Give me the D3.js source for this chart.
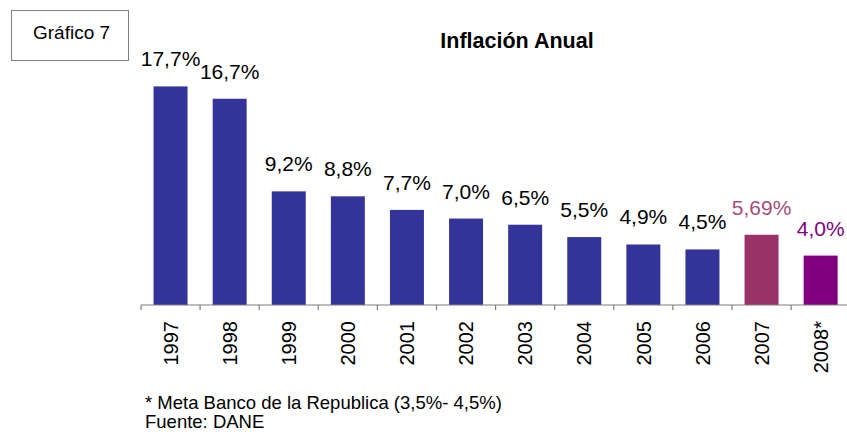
<!DOCTYPE html>
<html>
<head>
<meta charset="utf-8">
<script src="https://cdn.jsdelivr.net/npm/d3@7"></script>
<style>
  html, body { margin: 0; padding: 0; background: #ffffff; }
  svg { display: block; font-family: "Liberation Sans", Arial, sans-serif; }
</style>
</head>
<body>
<svg id="chart" width="847" height="432"></svg>
<script>
// Annual inflation, Colombia
const years  = ["1997", "1998", "1999", "2000", "2001", "2002", "2003", "2004", "2005", "2006", "2007", "2008*"];
const values = [17.7, 16.7, 9.2, 8.8, 7.7, 7.0, 6.5, 5.5, 4.9, 4.5, 5.69, 4.0];
const labels = ["17,7%", "16,7%", "9,2%", "8,8%", "7,7%", "7,0%", "6,5%", "5,5%", "4,9%", "4,5%", "5,69%", "4,0%"];
const barColors   = ["#333399", "#333399", "#333399", "#333399", "#333399", "#333399", "#333399", "#333399", "#333399", "#333399", "#993366", "#800080"];
const labelColors = ["#000000", "#000000", "#000000", "#000000", "#000000", "#000000", "#000000", "#000000", "#000000", "#000000", "#a64d79", "#800080"];

const svg = d3.select("#chart");

const x = d3.scaleBand()
  .domain(years)
  .range([141, 850.2])
  .paddingInner(0.425)
  .paddingOuter(0.2125);

const y = d3.scaleLinear()
  .domain([0, 20])
  .range([305, 58]);

// bars
svg.append("g")
  .selectAll("rect")
  .data(years)
  .join("rect")
  .attr("x", d => x(d))
  .attr("width", x.bandwidth())
  .attr("y", (d, i) => y(values[i]))
  .attr("height", (d, i) => y(0) - y(values[i]))
  .attr("fill", (d, i) => barColors[i]);

// value labels
svg.append("g")
  .selectAll("text")
  .data(years)
  .join("text")
  .attr("x", d => x(d) + x.bandwidth() / 2)
  .attr("y", (d, i) => y(values[i]) - 20)
  .attr("text-anchor", "middle")
  .attr("font-size", 21)
  .attr("fill", (d, i) => labelColors[i])
  .text((d, i) => labels[i]);

// category axis: baseline with ticks on band boundaries
const [r0, r1] = x.range();
const axis = svg.append("g").attr("stroke", "#7f7f7f").attr("stroke-width", 1.2);
axis.append("line")
  .attr("x1", r0).attr("x2", r1)
  .attr("y1", y(0)).attr("y2", y(0));
const step = x.step();
axis.selectAll("line.tick")
  .data(years)
  .join("line")
  .attr("class", "tick")
  .attr("x1", d => x(d) - x.paddingOuter() * step)
  .attr("x2", d => x(d) - x.paddingOuter() * step)
  .attr("y1", y(0)).attr("y2", y(0) + 5);

// year labels, rotated
svg.append("g")
  .selectAll("text")
  .data(years)
  .join("text")
  .attr("transform", d => `translate(${x(d) + x.bandwidth() / 2},${y(0) + 16}) rotate(-90)`)
  .attr("text-anchor", "end")
  .attr("dy", "0.36em")
  .attr("font-size", 20)
  .attr("fill", "#000")
  .text(d => d);

// title
svg.append("text")
  .attr("x", 517)
  .attr("y", 48)
  .attr("text-anchor", "middle")
  .attr("font-size", 21.5)
  .attr("font-weight", "bold")
  .text("Inflación Anual");

// figure tag box
svg.append("rect")
  .attr("x", 11.5).attr("y", 10.5)
  .attr("width", 117).attr("height", 50)
  .attr("fill", "none")
  .attr("stroke", "#000")
  .attr("stroke-width", 1)
  .attr("stroke-dasharray", "1,1");
svg.append("text")
  .attr("x", 71.5)
  .attr("y", 38.5)
  .attr("text-anchor", "middle")
  .attr("font-size", 19)
  .text("Gráfico 7");

// footnotes
const notes = ["* Meta Banco de la Republica (3,5%- 4,5%)", "Fuente: DANE"];
svg.append("g")
  .selectAll("text")
  .data(notes)
  .join("text")
  .attr("x", 145)
  .attr("y", (d, i) => 409 + i * 19)
  .attr("font-size", 18.5)
  .text(d => d);
</script>
</body>
</html>
